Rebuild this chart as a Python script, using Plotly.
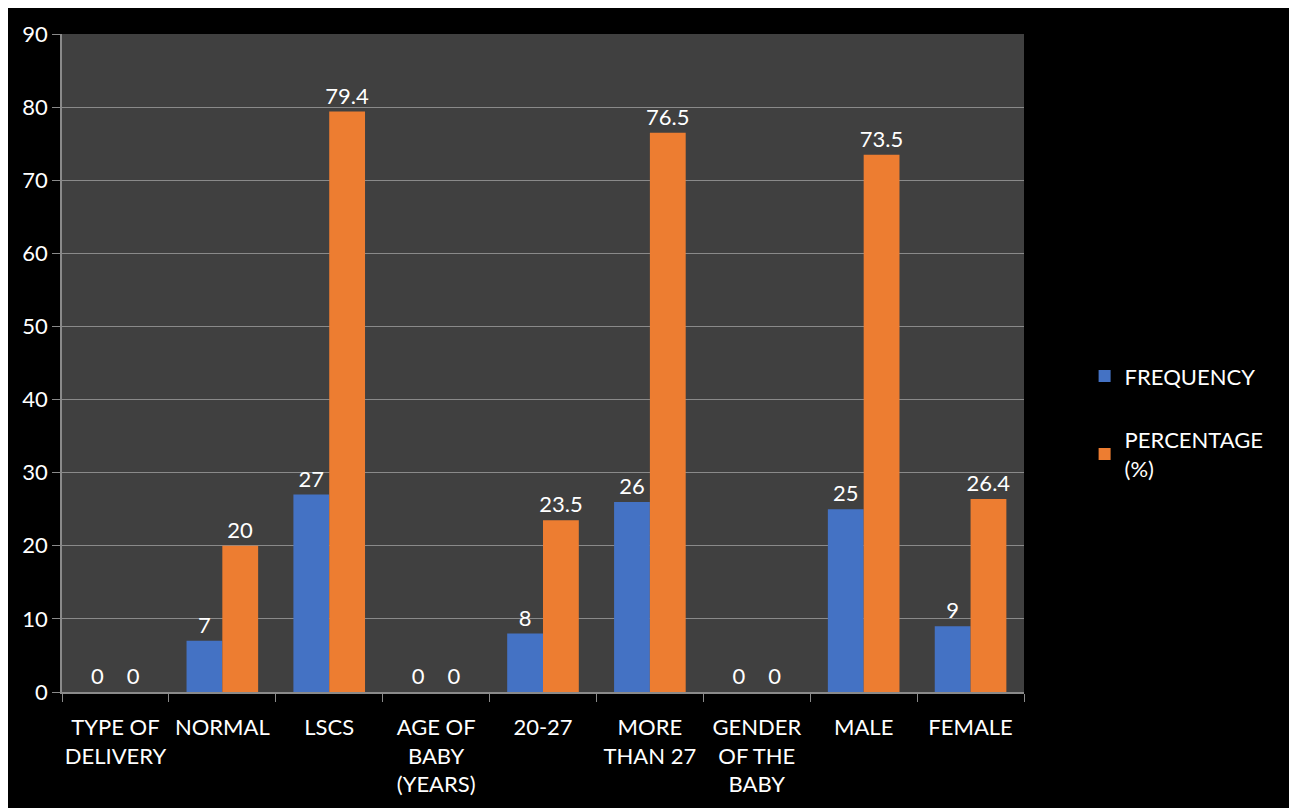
import plotly.graph_objects as go

categories = ["TYPE OF<br>DELIVERY", "NORMAL", "LSCS", "AGE OF<br>BABY<br>(YEARS)", "20-27",
              "MORE<br>THAN 27", "GENDER<br>OF THE<br>BABY", "MALE", "FEMALE"]
frequency = [0, 7, 27, 0, 8, 26, 0, 25, 9]
percentage = [0, 20, 79.4, 0, 23.5, 76.5, 0, 73.5, 26.4]
y_ticks = [0, 10, 20, 30, 40, 50, 60, 70, 80, 90]

FONT = "Lato, 'Open Sans', sans-serif"
FS = 22

fig = go.Figure()
fig.add_trace(go.Bar(name="FREQUENCY", x=categories, y=frequency, legendgroup="f",
                     marker=dict(color="#4472C4", line=dict(width=0)),
                     text=[str(v) for v in frequency], textposition="outside",
                     constraintext="none",
                     textfont=dict(color="white", size=FS, family=FONT), cliponaxis=False))
fig.add_trace(go.Bar(name="PERCENTAGE<br>(%)", x=categories, y=percentage, legendgroup="p",
                     marker=dict(color="#ED7D31", line=dict(width=0)),
                     text=[str(v) for v in percentage], textposition="outside",
                     constraintext="none",
                     textfont=dict(color="white", size=FS, family=FONT), cliponaxis=False))

fig.update_layout(
    width=1289, height=800,
    margin=dict(l=54, r=273, t=14, b=116),
    paper_bgcolor="black", plot_bgcolor="#404040",
    barmode="group", bargap=0.33, bargroupgap=0,
    font=dict(family=FONT, color="white", size=FS),
    legend=dict(x=1.063, y=0.41, xanchor="left", yanchor="middle",
                font=dict(size=FS, color="white"), bgcolor="rgba(0,0,0,0)",
                tracegroupgap=32, traceorder="grouped"),
    showlegend=True,
)
fig.update_xaxes(type="category", showline=True, linecolor="#8a8a8a", linewidth=1.5,
                 ticks="outside", tickson="boundaries", ticklen=8, tickcolor="#8a8a8a",
                 tickfont=dict(size=FS, color="white"), showgrid=False, ticklabelstandoff=15,
                 tickangle=0, automargin=False)
fig.update_yaxes(range=[0, 90], tickvals=y_ticks, showline=True, linecolor="#8a8a8a", linewidth=1.5,
                 ticks="outside", ticklen=8, tickcolor="#8a8a8a",
                 gridcolor="#8a8a8a", gridwidth=1.2, zeroline=False,
                 tickfont=dict(size=FS, color="white"), ticklabeloverflow="allow")

fig.write_html("out.html")
